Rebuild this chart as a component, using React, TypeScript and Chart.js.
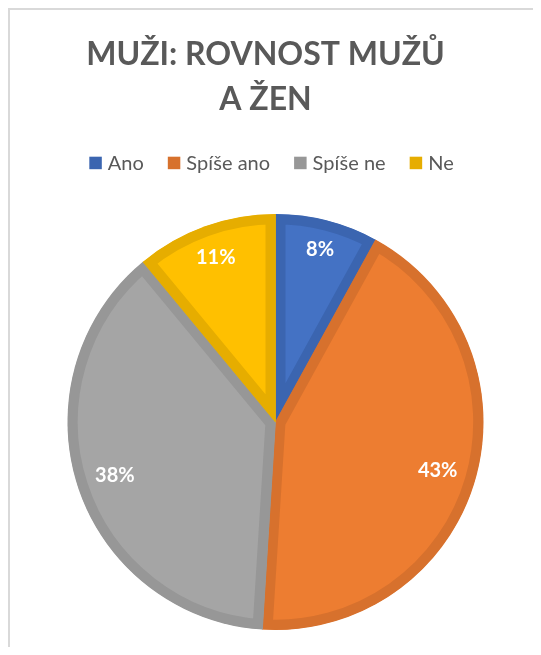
import React, { useEffect, useRef } from "react";
import { Chart, registerables } from "chart.js";

Chart.register(...registerables);

const categories = ["Ano", "Spíše ano", "Spíše ne", "Ne"];
const values = [8, 43, 38, 11];
const fillColors = ["#4472C4", "#ED7D31", "#A5A5A5", "#FFC000"];
const edgeColors = ["#3B65B0", "#D7712D", "#979797", "#E6AD00"];
const titleLines = ["MUŽI: ROVNOST MUŽŮ", "A ŽEN"];

const FONT = "Lato, 'Open Sans', sans-serif";

const headerPlugin = {
  id: "excelHeader",
  afterDraw(chart: any) {
    const ctx = chart.ctx;
    ctx.save();
    // title
    ctx.font = `bold 32px ${FONT}`;
    ctx.fillStyle = "#595959";
    ctx.textAlign = "center";
    ctx.textBaseline = "alphabetic";
    const cx = chart.width / 2 - 10;
    titleLines.forEach((line, i) => {
      ctx.fillText(line, cx, 55 + i * 45);
    });
    // legend
    ctx.font = `20px ${FONT}`;
    const box = 12.5;
    const gap = 6;
    const spacing = 24;
    const widths = categories.map((c) => ctx.measureText(c).width);
    const total =
      widths.reduce((a, w) => a + box + gap + w, 0) + spacing * (categories.length - 1);
    let x = chart.width / 2 - 4 - total / 2;
    ctx.textAlign = "left";
    categories.forEach((c, i) => {
      ctx.fillStyle = edgeColors[i];
      ctx.fillRect(x, 146.7, box, box);
      ctx.fillStyle = "#595959";
      ctx.fillText(c, x + box + gap, 160);
      x += box + gap + widths[i] + spacing;
    });
    ctx.restore();
  },
};

const labelPlugin = {
  id: "sliceLabels",
  afterDatasetsDraw(chart: any) {
    const ctx = chart.ctx;
    const meta = chart.getDatasetMeta(0);
    ctx.save();
    ctx.font = `bold 20px ${FONT}`;
    ctx.fillStyle = "#FFFFFF";
    ctx.textAlign = "center";
    ctx.textBaseline = "middle";
    meta.data.forEach((arc: any, i: number) => {
      const p = arc.getProps(["startAngle", "endAngle", "outerRadius", "x", "y"], true);
      const mid = (p.startAngle + p.endAngle) / 2;
      const text = `${values[i]}%`;
      const w = ctx.measureText(text).width;
      const h = 15;
      const ext = Math.abs(Math.cos(mid)) * w / 2 + Math.abs(Math.sin(mid)) * h / 2;
      const r = p.outerRadius - 18 - ext;
      ctx.fillText(text, p.x + Math.cos(mid) * r, p.y + Math.sin(mid) * r + 1);
    });
    ctx.restore();
  },
};

export default function App() {
  const ref = useRef<HTMLCanvasElement>(null);
  useEffect(() => {
    document.body.style.overflow = "hidden";
    const chart = new Chart(ref.current!, {
      type: "pie",
      data: {
        labels: categories,
        datasets: [
          {
            data: values,
            backgroundColor: fillColors,
            borderColor: edgeColors,
            borderWidth: 10,
            borderAlign: "inner",
            hoverBorderWidth: 10,
            radius: 208,
          } as any,
        ],
      },
      options: {
        responsive: false,
        animation: false,
        layout: { padding: { top: 173, bottom: 0, left: 0, right: 0 } },
        plugins: {
          title: { display: false },
          legend: { display: false },
          tooltip: { enabled: false },
        },
      },
      plugins: [labelPlugin, headerPlugin],
    });
    return () => chart.destroy();
  }, []);
  return (
    <div
      style={{
        width: 531,
        height: 637,
        overflow: "hidden",
        borderTop: "2px solid #D9D9D9",
        borderLeft: "2px solid #D9D9D9",
        background: "#FFFFFF",
      }}
    >
      <canvas ref={ref} width={531} height={651} style={{ display: "block" }} />
    </div>
  );
}
